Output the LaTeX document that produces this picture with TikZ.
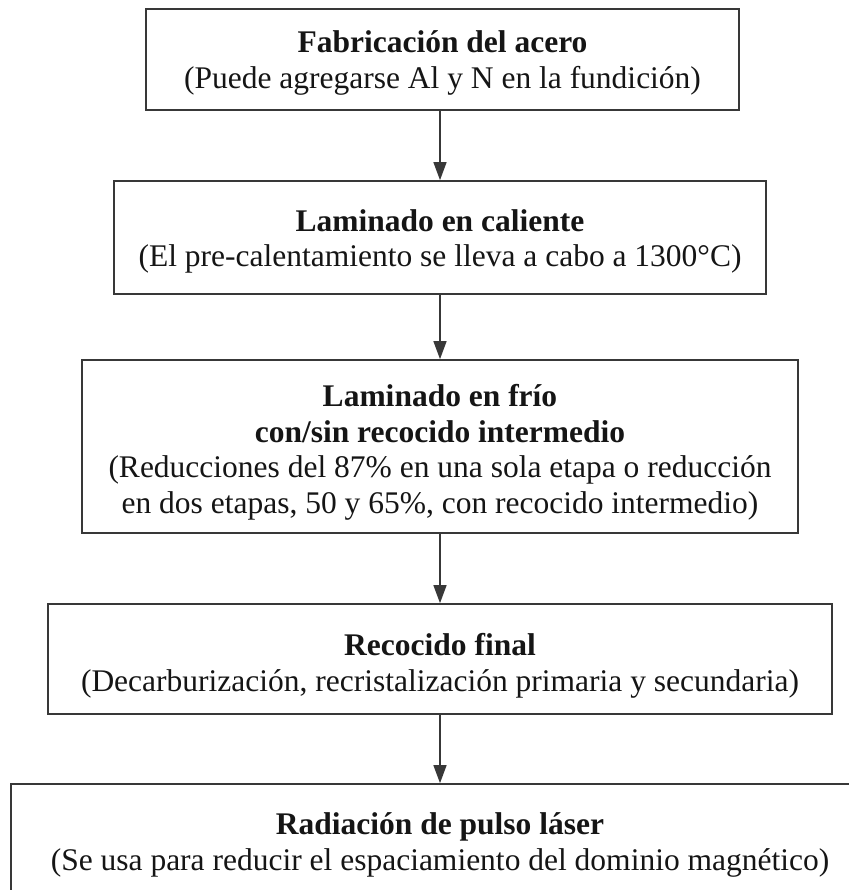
\documentclass[tikz,border=0pt]{standalone}
\usepackage{fontspec}
\setmainfont{Liberation Serif}
\usetikzlibrary{arrows.meta}
\definecolor{edge}{HTML}{383838}
\definecolor{ink}{HTML}{151515}
\newcommand{\lift}[1]{\rule{0pt}{#1pt}}
\begin{document}
\begin{tikzpicture}[x=1pt,y=-1pt,
  stage/.style={draw=edge, line width=1.7pt, rectangle, inner sep=0pt, align=center,
    font=\fontsize{31.5}{35.5}\selectfont, text=ink},
  flow/.style={draw=edge, line width=1.4pt, -{Triangle[length=18pt,width=13pt]}}]
\useasboundingbox (0,0) rectangle (848,890);
\fill[white] (0,0) rectangle (848,890);
\node[stage, minimum width=593pt, minimum height=101pt] (b1) at (442.5,59.5)
  {\lift{29}\textbf{Fabricación del acero}\\(Puede agregarse Al y N en la fundición)};
\node[stage, minimum width=652pt, minimum height=113pt] (b2) at (440,237.5)
  {\lift{30}\textbf{Laminado en caliente}\\(El pre-calentamiento se lleva a cabo a 1300°C)};
\node[stage, minimum width=716pt, minimum height=173pt] (b3) at (440,446.5)
  {\lift{34}\textbf{Laminado en frío}\\\textbf{con/sin recocido intermedio}\\(Reducciones del 87\% en una sola etapa o reducción\\en dos etapas, 50 y 65\%, con recocido intermedio)};
\node[stage, minimum width=784pt, minimum height=110pt] (b4) at (440,659)
  {\lift{36}\textbf{Recocido final}\\(Decarburización, recristalización primaria y secundaria)};
\node[stage, minimum width=858pt, minimum height=112pt] (b5) at (440,840)
  {\lift{32}\textbf{Radiación de pulso láser}\\(Se usa para reducir el espaciamiento del dominio magnético)};
\draw[flow] (b1.south -| b2.north) -- (b2.north);
\draw[flow] (b2.south) -- (b3.north);
\draw[flow] (b3.south) -- (b4.north);
\draw[flow] (b4.south) -- (b5.north);
\end{tikzpicture}
\end{document}
